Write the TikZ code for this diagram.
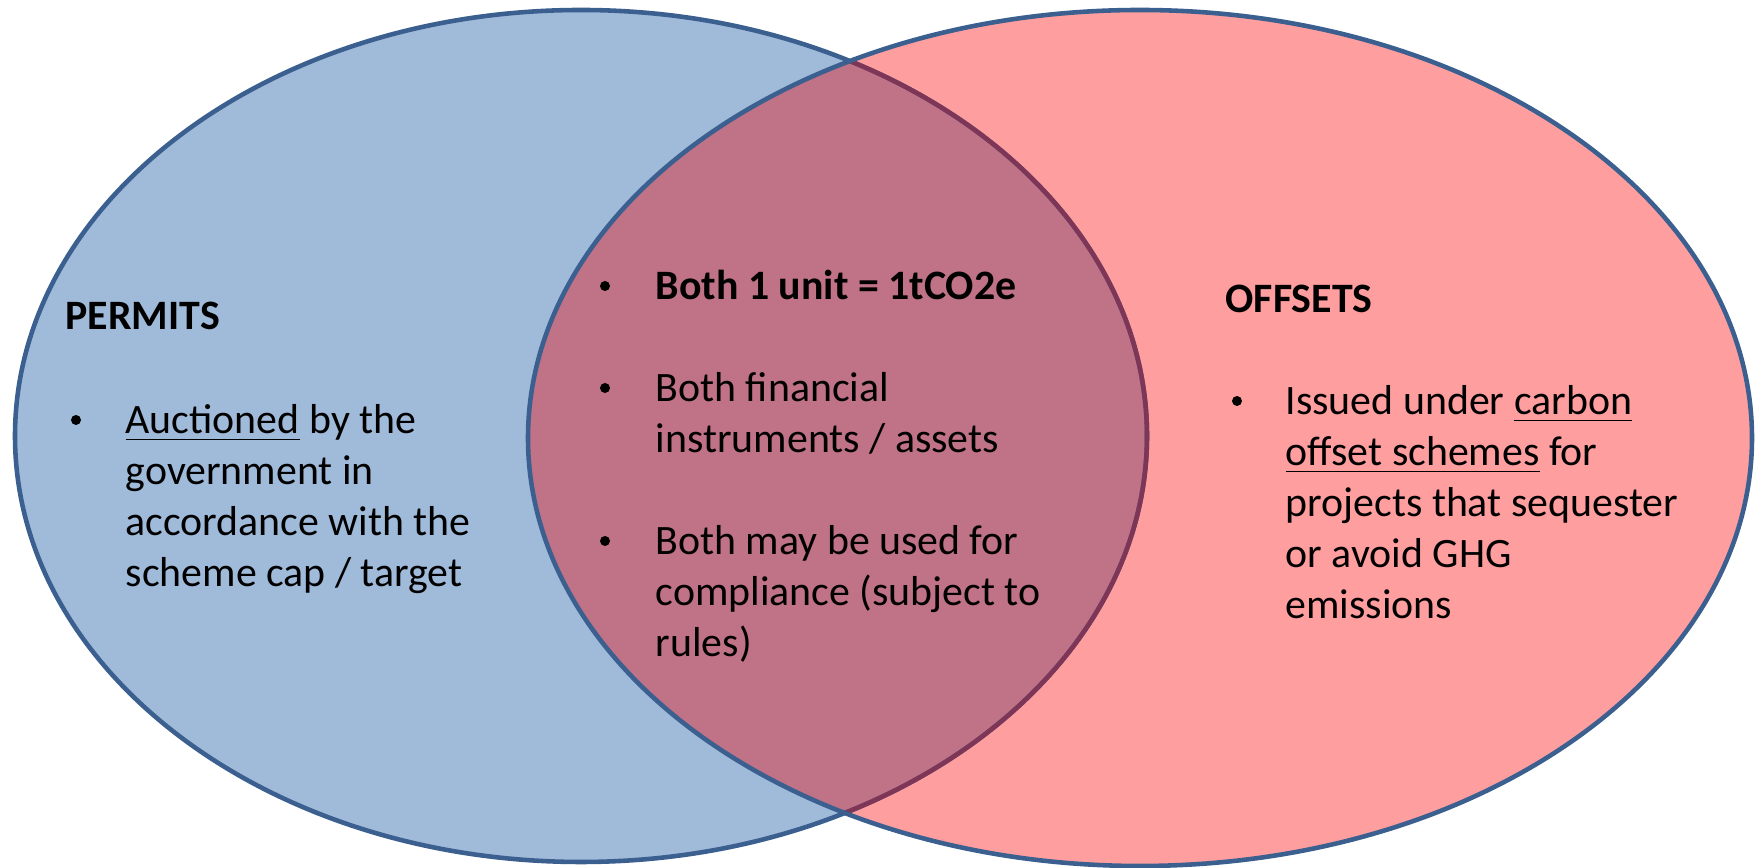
\documentclass[tikz,border=0pt]{standalone}
\usepackage{fontspec}
\setmainfont{Carlito}
\usetikzlibrary{positioning}
\definecolor{permitblue}{RGB}{160,186,217}
\definecolor{offsetpink}{RGB}{255,158,159}
\definecolor{overlapmauve}{RGB}{192,114,134}
\definecolor{rimblue}{RGB}{59,96,144}
\definecolor{rimplum}{RGB}{127,53,86}

\begin{document}
\begin{tikzpicture}[x=0.01cm, y=-0.01cm,
  rim/.style={line width=1.3pt},
  txt/.style={inner sep=0pt, anchor=base west,
    font=\fontsize{11.9}{14.5}\selectfont},
  head/.style={txt, font=\fontsize{11.9}{14.5}\selectfont\bfseries},
  dot/.style={circle, fill=black, inner sep=0pt, minimum size=0.1cm},
]
  \useasboundingbox (0,0) rectangle (1762,868);

  % === ELLIPSES ===
  \coordinate (pc) at (581,436);
  \coordinate (oc) at (1140,438);
  \fill[permitblue] (pc) ellipse [x radius=566, y radius=426];
  \fill[offsetpink] (oc) ellipse [x radius=612, y radius=428];
  \begin{scope}
    \clip (oc) ellipse [x radius=612, y radius=428];
    \fill[overlapmauve] (pc) ellipse [x radius=566, y radius=426];
  \end{scope}
  \draw[rim, rimblue] (pc) ellipse [x radius=566, y radius=426];
  \begin{scope}
    \clip (oc) ellipse [x radius=612, y radius=428];
    \draw[rim, rimplum] (pc) ellipse [x radius=566, y radius=426];
  \end{scope}
  \draw[rim, rimblue] (oc) ellipse [x radius=612, y radius=428];

  % === PERMITS (left) ===
  \node[head] (ptitle) at (65,330) {PERMITS};
  \node[dot] (pb1) at (76,420) {};
  \foreach \y/\t [count=\i] in {434/{\underline{Auctioned} by the},
      485/{government in}, 536/{accordance with the},
      587/{scheme cap / target}}
    \node[txt] (pl\i) at (125,\y) {\t};

  % === BOTH (middle) ===
  \node[dot] (mb1) at (605,286) {};
  \node[dot] (mb2) at (605,388) {};
  \node[dot] (mb3) at (605,541) {};
  \node[head] (ml1) at (655,300) {Both 1 unit = 1tCO2e};
  \foreach \y/\t [count=\i from 2] in {402/{Both financial},
      453/{instruments / assets}, 555/{Both may be used for},
      606/{compliance (subject to}, 657/{rules)}}
    \node[txt] (ml\i) at (655,\y) {\t};

  % === OFFSETS (right) ===
  \node[head] (otitle) at (1225,313) {OFFSETS};
  \node[dot] (ob1) at (1237,401) {};
  \foreach \y/\t [count=\i] in {415/{Issued under \underline{carbon}},
      466/{\underline{offset schemes} for}, 517/{projects that sequester},
      568/{or avoid GHG}, 619/{emissions}}
    \node[txt] (ol\i) at (1285,\y) {\t};
\end{tikzpicture}
\end{document}
